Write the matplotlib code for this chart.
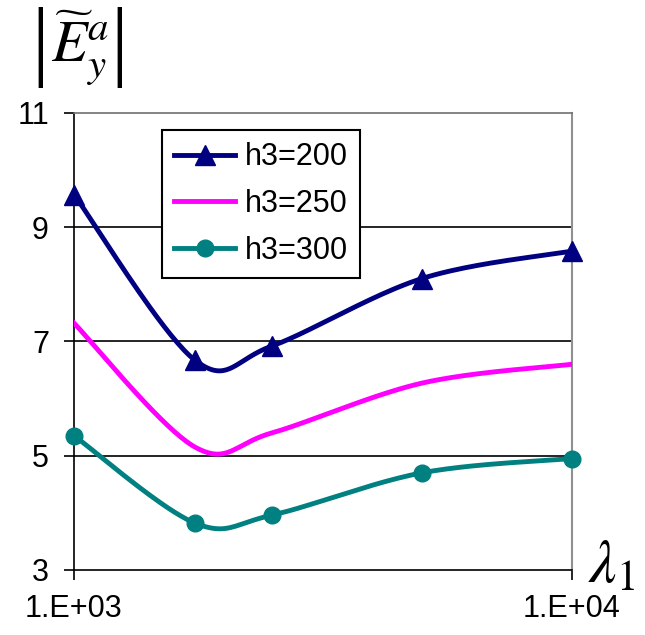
import numpy as np
import matplotlib.pyplot as plt
from matplotlib.lines import Line2D

# data
lam = [1000, 1750, 2500, 5000, 10000]
h200 = [9.57, 6.67, 6.92, 8.10, 8.58]
h250 = [7.32, 5.15, 5.40, 6.27, 6.60]
h300 = [5.35, 3.82, 3.96, 4.70, 4.95]

labels = ['h3=200', 'h3=250', 'h3=300']
colors = ['#000080', '#FF00FF', '#008080']
markers = ['^', None, 'o']
msizes = [14, 0, 12]

plt.rcParams['font.family'] = ['Liberation Sans', 'DejaVu Sans']
plt.rcParams['mathtext.fontset'] = 'stix'


def excel_smooth(x, y, n=40):
    # smoothed line like Excel: cubic bezier pieces, built in log-x space
    pts = np.column_stack([np.log10(x), np.asarray(y, float)])
    out = [pts[:1]]
    t = np.linspace(0, 1, n)[1:, None]
    for i in range(len(pts) - 1):
        p0, p3 = pts[i], pts[i + 1]
        prev = pts[i - 1] if i > 0 else pts[i]
        nxt = pts[i + 2] if i + 2 < len(pts) else pts[i + 1]
        c1 = p0 + (p3 - prev) / 6
        c2 = p3 - (nxt - p0) / 6
        seg = (1 - t)**3 * p0 + 3 * (1 - t)**2 * t * c1 + 3 * (1 - t) * t**2 * c2 + t**3 * p3
        out.append(seg)
    s = np.vstack(out)
    return 10**s[:, 0], s[:, 1]


fig = plt.figure(figsize=(6.45, 6.35), dpi=100)
ax = fig.add_axes([0.1147, 0.1024, 0.772, 0.720])

handles = []
for vals, lab, c, m, ms in zip([h200, h250, h300], labels, colors, markers, msizes):
    xs, ys = excel_smooth(lam, vals)
    ax.plot(xs, ys, color=c, lw=3.5, zorder=3)
    if m:
        ax.plot(lam, vals, ls='none', marker=m, ms=ms, color=c, zorder=4, clip_on=False)
    handles.append(Line2D([], [], color=c, lw=3.5, marker=m, ms=ms))

ax.set_xscale('log')
ax.set_xlim(1000, 10000)
ax.set_ylim(3, 11)
ax.set_xticks([1000, 10000])
ax.set_xticklabels(['1.E+03', '1.E+04'])
ax.xaxis.set_minor_locator(plt.NullLocator())
ax.set_yticks([3, 5, 7, 9, 11])
ax.set_yticklabels(['3', '5', '7', '9', '11'])
ax.tick_params(axis='both', direction='out', length=7, width=1.2, labelsize=22, color='black')
ax.tick_params(axis='x', pad=10)
ax.tick_params(axis='y', pad=11)

for y in [5, 7, 9]:
    ax.axhline(y, color='black', lw=1.2, zorder=1)

ax.spines['left'].set_color('black')
ax.spines['bottom'].set_color('black')
ax.spines['left'].set_linewidth(1.2)
ax.spines['bottom'].set_linewidth(1.2)
ax.spines['top'].set_color('#707070')
ax.spines['right'].set_color('#909090')
ax.spines['top'].set_linewidth(1.2)
ax.spines['right'].set_linewidth(1.5)

leg = ax.legend(handles, labels, loc='upper left', bbox_to_anchor=(0.177, 0.962),
                borderaxespad=0, fancybox=False, fontsize=22, handlelength=2.0,
                labelspacing=0.55, borderpad=0.4, handletextpad=0.3)
leg.get_frame().set_edgecolor('black')
leg.get_frame().set_linewidth(1.5)
leg.get_frame().set_alpha(1)

# y-axis label |E~_y^a| at the top left
fig.text(80 / 645, 1 - 48 / 635, r'$\widetilde{E}_{y}^{a}$',
         fontsize=42, ha='center', va='center')
for bx in [40, 119]:
    fig.text(bx / 645, 1 - 48 / 635, '|', family='Liberation Serif',
             fontsize=64, ha='center', va='center')

# x-axis label at the bottom right
fig.text(588 / 645, 1 - 596 / 635, r'$\lambda_1$', fontsize=44, ha='left', va='bottom')

fig.savefig('out.png', dpi=100)
